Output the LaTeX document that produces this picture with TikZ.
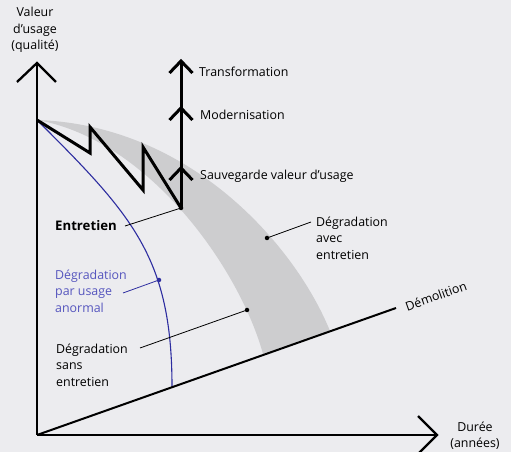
\documentclass[tikz,border=0pt]{standalone}
\usepackage{fontspec}
\setmainfont{Open Sans}
\usetikzlibrary{positioning}

\definecolor{fond}{RGB}{236,236,239}
\definecolor{bande}{RGB}{205,205,207}
\definecolor{bleutrait}{RGB}{45,45,160}
\definecolor{bleutexte}{RGB}{85,85,190}

\tikzset{
	axe/.style={line width=2.3pt},
	chevron/.style={line width=2.3pt, line join=miter},
	travaux/.style={line width=3pt, line join=miter},
	renvoi/.style={line width=.8pt},
	legende/.style={inner sep=0pt, align=left, anchor=west, font=\fontsize{12.4}{16.4}\selectfont},
	point/.style={circle, fill, inner sep=0pt, minimum size=4.5pt}
}

\begin{document}
\begin{tikzpicture}[x=1pt, y=1pt]
		\useasboundingbox (0,0) rectangle (511,452);
		\fill[fond] (0,0) rectangle (511,452);
		\clip (0,0) rectangle (511,452);

		\coordinate (O) at (37,17);
		\coordinate (S) at (37,332);
		\coordinate (fin) at (396,144);
		\coordinate (ytip) at (37,389);
		\coordinate (xtip) at (437,17);
		\coordinate (E) at (181,244);

		% bande grise
		\fill[bande] (S) .. controls (190,327) and (295,207) .. (330,121)
			-- (263,98) .. controls (240,182) and (150,312) .. (S);
		% usage anormal
		\draw[bleutrait, line width=1.1pt] (S) .. controls (132,237) and (172,195) .. (172,65);

		\draw[line width=2pt] (O) -- (fin);
		\node[legende, anchor=center, rotate=19.5] (demol) at (436,156) {Démolition};

		\draw[axe] (O) -- (ytip);
		\draw[chevron] (17,370) -- (ytip) -- (56,370);
		\draw[axe] (O) -- (xtip);
		\draw[chevron] (418,36) -- (xtip) -- (418,-2);

		\draw[travaux] (S) -- (90,299) -- (90,325) -- (143,262) -- (143,305) -- (E);
		\draw[travaux] (E) -- (181,391);
		\foreach \y in {284,344,391} {
			\draw[chevron, line width=3pt] (169.5,\y-12) -- (181,\y) -- (192.5,\y-12);
		}

		\node[legende] (transfo) at (199,380) {Transformation};
		\node[legende] (moder) at (200,337) {Modernisation};
		\node[legende] (sauve) at (200,276) {Sauvegarde valeur d’usage};

		\node[legende, font=\fontsize{13.2}{15}\selectfont\bfseries] (entretien) at (55,226) {Entretien};
		\node[legende, text=bleutexte] (anormal) at (55,161) {Dégradation\\par usage\\anormal};
		\node[legende] (sans) at (56,87) {Dégradation\\sans\\entretien};
		\node[legende] (avec) at (316,214) {Dégradation\\avec\\entretien};

		\node[legende, anchor=center, align=center] (yaxe) at (35,422) {Valeur\\d’usage\\(qualité)};
		\node[legende, anchor=center, align=center] (xaxe) at (475,16) {Durée\\(années)};

		\coordinate (pbleu) at (159,172);
		\coordinate (psans) at (247,142);
		\coordinate (pavec) at (267,214);

		\node[point] at (E) {};
		\node[point, bleutrait] at (pbleu) {};
		\node[point] at (psans) {};
		\node[point] at (pavec) {};

		\coordinate (lentretien) at (125,226);
		\coordinate (lbleu) at (123,159);
		\coordinate (lsans) at (140,104);
		\coordinate (lavec) at (311,230);

		\draw[renvoi] (lentretien) -- (E);
		\draw[renvoi, bleutrait] (lbleu) -- (pbleu);
		\draw[renvoi] (lsans) -- (psans);
		\draw[renvoi] (lavec) -- (pavec);
	\end{tikzpicture}
\end{document}
